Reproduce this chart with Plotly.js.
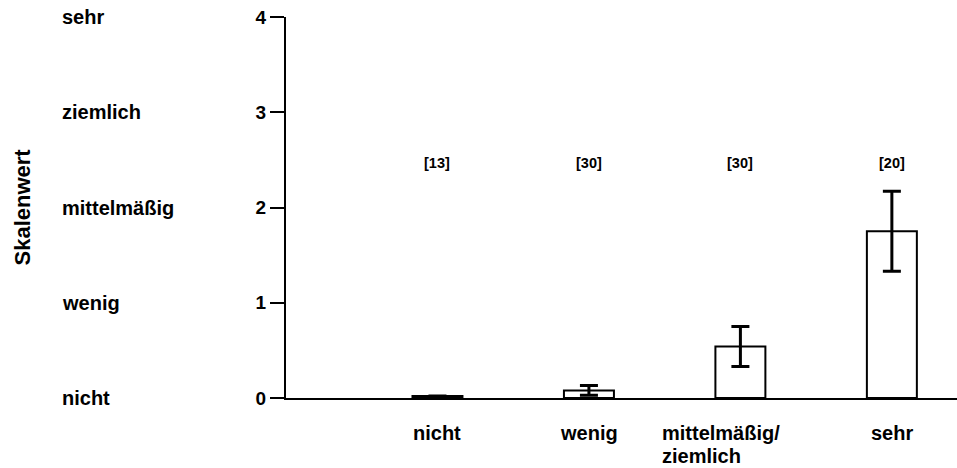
<!DOCTYPE html>
<html>
<head>
<meta charset="utf-8">
<script src="https://cdn.plot.ly/plotly-3.0.1.min.js"></script>
<style>html,body{margin:0;padding:0;background:#fff}</style>
</head>
<body>
<div id="chart" style="width:957px;height:468px"></div>
<script>
const categories = ["nicht", "wenig", "mittelmäßig/<br>ziemlich", "sehr"];
const means = [0.02, 0.08, 0.54, 1.75];
const errors = [0, 0.05, 0.21, 0.42];
const counts = ["[13]", "[30]", "[30]", "[20]"];
const scaleValues = [0, 1, 2, 3, 4];
const scaleNumbers = ["0", "1", "2", "3", "4"];
const scaleWords = ["nicht", "wenig", "mittelmäßig", "ziemlich", "sehr"];
const countLevel = 2.47;

const FONT = "Liberation Sans, Arial, sans-serif";
const xpos = categories.map((_, i) => i);

const trace = {
  type: "bar",
  x: xpos,
  y: means,
  width: 0.33,
  marker: {color: "#ffffff", line: {color: "#000000", width: 2}},
  error_y: {type: "data", array: errors, visible: true, color: "#000000", thickness: 3, width: 9},
  hoverinfo: "none",
  cliponaxis: false
};

const annotations = [];
scaleWords.forEach((w, i) => {
  annotations.push({xref: "paper", yref: "y", x: (60 - 286) / 671, y: scaleValues[i], xanchor: "left", yanchor: "middle",
    text: w, showarrow: false, font: {family: FONT, size: 20, weight: 700, color: "#000"}});
});
counts.forEach((c, i) => {
  annotations.push({xref: "x", yref: "y", x: xpos[i], y: countLevel, xanchor: "center", yanchor: "middle",
    text: c, showarrow: false, font: {family: FONT, size: 14.5, weight: 700, color: "#000"}});
});
categories.forEach((c, i) => {
  const lines = c.split("<br>");
  const multi = lines.length > 1;
  lines.forEach((ln, k) => {
    annotations.push({xref: "x", yref: "paper", x: xpos[i], y: (398 - 433 - 23 * k) / 381,
      xanchor: multi ? "left" : "center", yanchor: "middle",
      xshift: multi ? -80 : 0,
      text: ln, showarrow: false, font: {family: FONT, size: 20, weight: 700, color: "#000"}});
  });
});
annotations.push({xref: "paper", yref: "y", x: (22 - 286) / 671, y: 2.0, xanchor: "center", yanchor: "middle",
  textangle: -90, text: "Skalenwert", showarrow: false, font: {family: FONT, size: 22, weight: 700, color: "#000"}});

const layout = {
  width: 957, height: 468,
  margin: {l: 286, r: 0, t: 17, b: 70, pad: 0},
  paper_bgcolor: "#ffffff", plot_bgcolor: "#ffffff",
  showlegend: false,
  xaxis: {range: [-1, 3.43], showline: true, linecolor: "#000", linewidth: 2, showgrid: false, zeroline: false,
    showticklabels: false, ticks: "", fixedrange: true},
  yaxis: {range: [0, 4], tickvals: scaleValues, ticktext: scaleNumbers, showline: true, linecolor: "#000", linewidth: 2,
    ticks: "outside", ticklen: 14, tickwidth: 2, tickcolor: "#000", showgrid: false, zeroline: false,
    tickfont: {family: FONT, size: 19, weight: 700, color: "#000"}, fixedrange: true},
  annotations: annotations
};

Plotly.newPlot("chart", [trace], layout, {displayModeBar: false, staticPlot: true});
</script>
</body>
</html>
